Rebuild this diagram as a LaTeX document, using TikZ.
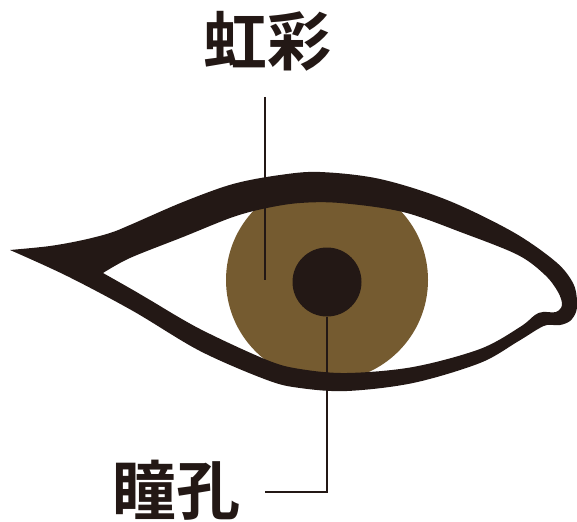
\documentclass[tikz,border=0pt]{standalone}
\usepackage{fontspec}
\newfontfamily\cjk{Noto Sans CJK JP}[BoldFont={Noto Sans CJK JP Bold}]
\definecolor{lidblack}{HTML}{231815}
\definecolor{irisbrown}{HTML}{755B30}
\tikzset{
  label/.style={font=\cjk\bfseries\fontsize{64}{64}\selectfont, text=lidblack, inner sep=0pt, anchor=base},
  leader/.style={draw=lidblack, line width=2pt},
  disc/.style={circle, inner sep=0pt, minimum size=#1, draw=none}
}
\begin{document}
\begin{tikzpicture}[x=1pt, y=-1pt]
\useasboundingbox (0,0) rectangle (577,521);

% iris
\node[disc=202pt, fill=irisbrown] (iris) at (327,280) {};

% eyelids: outer contour minus the white of the eye
\fill[lidblack, even odd rule]
  plot[smooth, tension=0.55] coordinates {
    (10,250) (50,246) (83,240) (110,233) (130,225) (183,202) (233,184)
    (280,175) (320,172) (380,179) (447,200) (513,232) (556,262) (573,283)
    (577,300) (576,312) (570,321) (560,325) (547,325) (538,329) (517,342)
    (480,363) (413,383) (347,391) (300,388) (267,380) (200,351) (133,311)
    (67,276) (10,250)} -- cycle
  plot[smooth, tension=0.55] coordinates {
    (103,273) (130,258) (183,237) (233,217) (267,208) (300,203) (340,203)
    (403,212) (463,233) (518,255) (545,275) (558,292) (562,305) (556,312)
    (543,312) (535,315) (520,327) (480,349) (413,367) (347,373) (300,369)
    (267,360) (200,329) (150,300) (133,290) (103,273)} -- cycle;

% pupil
\node[disc=69pt, fill=lidblack] (pupil) at (327,282) {};

% labels
\node[label] (irisLabel) at (267,66) {虹彩};
\node[label] (pupilLabel) at (176,514) {瞳孔};

% leader lines
\coordinate (irisTop) at (265,97);
\coordinate (irisEnd) at (265,280);
\coordinate (pupilEnd) at (265,492);
\draw[leader] (irisTop) -- (irisEnd);
\draw[leader] (pupil.south) -- (pupil.south |- pupilEnd) -- (pupilEnd);
\end{tikzpicture}
\end{document}
